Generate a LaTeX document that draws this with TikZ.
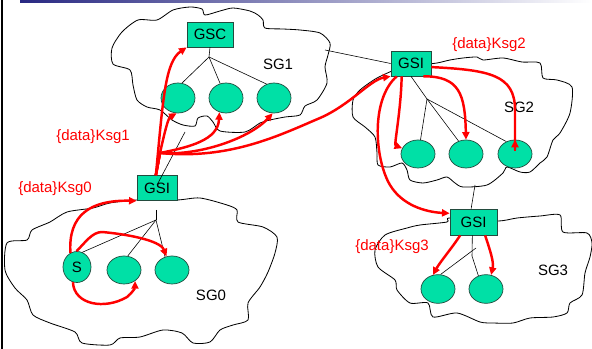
\documentclass[tikz,border=0pt]{standalone}
\usepackage{fontspec}
\setmainfont{Liberation Sans}
\usetikzlibrary{arrows.meta,shapes.geometric,calc}
\definecolor{nodefill}{RGB}{0,224,166}
\definecolor{nodeline}{RGB}{35,75,62}
\definecolor{barblue}{RGB}{40,40,130}

\begin{document}
\begin{tikzpicture}[x=0.03cm, y=-0.03cm,
  gbox/.style={draw=nodeline, fill=nodefill, line width=0.6pt, inner sep=0pt,
    minimum width=1.2cm, minimum height=0.75cm, font=\fontsize{12.8}{15}\selectfont},
  member/.style={ellipse, draw=nodeline, fill=nodefill, line width=0.6pt, inner sep=0pt,
    minimum width=1.02cm, minimum height=0.86cm, font=\fontsize{12.8}{15}\selectfont},
  wire/.style={black, line width=0.5pt},
  sgcloud/.style={black, line width=0.7pt},
  flow/.style={red, line width=2.1pt, -{Triangle[length=6.5pt,width=6pt]}},
  keytext/.style={red, font=\fontsize{12.8}{15}\selectfont},
  sgtext/.style={font=\fontsize{12.8}{15}\selectfont}]
  \useasboundingbox (0,0) rectangle (592,349);

  % Slide frame
  \shade[left color=barblue, right color=white] (20,0) rectangle (592,3);
  \fill[black] (1,0) rectangle (3,349);

  % Clouds
  \draw[sgcloud] plot[smooth cycle, tension=0.45] coordinates {
    (112,48) (122,32) (138,20) (157,20) (173,10) (190,7) (202,9) (205,15)
    (220,11) (233,8) (250,11) (258,15) (263,20) (265,28) (283,29) (300,30)
    (320,33) (330,43) (328,55) (325,67) (327,83) (317,100) (305,106)
    (300,115) (285,117) (270,120) (260,123) (245,132) (220,131) (213,122)
    (207,116) (198,118) (195,126) (183,125) (172,120) (160,110) (147,107)
    (137,100) (133,85) (130,70) (113,64)};
  \draw[sgcloud] plot[smooth cycle, tension=0.45] coordinates {
    (377,78) (360,90) (353,100) (353,117) (365,127) (375,137) (377,153)
    (378,165) (390,167) (402,163) (407,170) (410,180) (423,183) (437,180)
    (447,177) (455,183) (463,187) (487,185) (503,173) (507,167) (520,172)
    (530,172) (540,163) (547,157) (553,140) (560,133) (570,113) (572,87)
    (557,80) (543,78) (540,63) (522,62) (503,58) (483,60) (477,57) (463,58)
    (450,60) (437,63) (420,65) (400,68)};
  \draw[sgcloud] plot[smooth cycle, tension=0.45] coordinates {
    (137,200) (177,200) (200,198) (227,205) (237,210) (238,222) (263,227)
    (277,237) (275,253) (268,272) (260,287) (248,303) (248,320) (233,325)
    (220,330) (210,342) (193,343) (182,333) (163,330) (140,337) (120,338)
    (110,345) (82,343) (75,332) (50,323) (33,315) (27,300) (15,288) (5,270)
    (7,243) (27,240) (32,230) (50,222) (67,212) (93,208) (110,203)};
  \draw[sgcloud] plot[smooth cycle, tension=0.45] coordinates {
    (450,218) (497,221) (517,218) (540,216) (560,215) (563,232) (587,233)
    (592,243) (590,257) (585,273) (582,295) (570,303) (567,313) (553,317)
    (530,318) (513,323) (493,323) (480,322) (457,313) (433,317) (428,303)
    (410,303) (397,290) (395,280) (378,267) (375,250) (385,235) (407,228)
    (420,225) (447,222)};

  % Gateways
  \node[gbox, minimum width=1.38cm] (gsc) at (210,34.5) {GSC};
  \node[gbox] (gsi0) at (157,188) {GSI};
  \node[gbox] (gsi2) at (411,63.5) {GSI};
  \node[gbox, minimum width=1.41cm, minimum height=0.78cm] (gsi3) at (473.5,222) {GSI};

  % Members
  \node[member, minimum height=0.9cm] (e1a) at (178,98) {};
  \node[member, minimum height=0.9cm] (e1b) at (226,98) {};
  \node[member, minimum height=0.9cm] (e1c) at (274,98) {};
  \node[member, minimum height=0.84cm] (e2a) at (418,154) {};
  \node[member, minimum height=0.84cm] (e2b) at (466,154) {};
  \node[member, minimum height=0.84cm] (e2c) at (515,154) {};
  \node[member] (e3a) at (438,289) {};
  \node[member] (e3b) at (486,289) {};
  \node[member, minimum width=0.84cm, minimum height=0.93cm] (s) at (77,267) {S};
  \node[member, minimum height=0.84cm] (e0b) at (124,270) {};
  \node[member, minimum height=0.84cm] (e0c) at (172,270) {};

  % Group labels
  \node[sgtext] (sg1) at (278,64) {SG1};
  \node[sgtext] (sg2) at (519,107) {SG2};
  \node[sgtext] (sg0) at (211,295) {SG0};
  \node[sgtext] (sg3) at (553,270) {SG3};
  \node[keytext] (k1) at (93,137) {\{data\}Ksg1};
  \node[keytext] (k0) at (55,189) {\{data\}Ksg0};
  \node[keytext] (k2) at (489,45) {\{data\}Ksg2};
  \node[keytext] (k3) at (392,247) {\{data\}Ksg3};

  % Trees
  \coordinate (j1) at (209,57);
  \draw[wire] (gsc.south) -- (j1);
  \draw[wire] (j1) -- (e1a.75);
  \draw[wire] (j1) -- (e1b.112);
  \draw[wire] (j1) -- (e1c.118);
  \coordinate (j2) at (427,99);
  \draw[wire] (gsi2.south) -- (j2);
  \draw[wire] (j2) -- (e2a.80);
  \draw[wire] (j2) -- (e2b.120);
  \draw[wire] (j2) -- (e2c.125);
  \coordinate (j3) at (472,256);
  \coordinate (k3) at (476,248);
  \draw[wire] (gsi3.265) -- (j3) -- (e3b.120);
  \draw[wire] (k3) -- (e3a.80);
  \coordinate (t0) at (156,210);
  \coordinate (j0) at (156,220);
  \draw[wire] (t0) -- (j0);
  \draw[wire] (j0) -- (s.70);
  \draw[wire] (j0) -- (e0b.75);
  \draw[wire] (j0) -- (e0c.118);

  % Links between groups
  \coordinate (c1) at (325,50);
  \coordinate (c0) at (185,132);
  \coordinate (c2) at (475,185);
  \draw[wire] (c1) -- (gsi2.west);
  \draw[wire] ($(gsi0.center)+(0,-3)$) -- (c0);
  \draw[wire] (c2) -- (gsi3.100);

  % SG0 flows
  \draw[flow] (s.115) .. controls (68,215) and (90,200) .. (gsi0.south west);
  \draw[flow] (s.92) .. controls (85,243) and (92,232) .. (102,232)
    .. controls (125,234) and (160,240) .. (e0c.112);
  \draw[flow] (s.255) .. controls (74,305) and (105,310) .. (127,297)
    .. controls (132,293) and (135,288) .. (e0b.315);

  % SG1 flows
  \coordinate (fork) at (160,153);
  \draw[flow] (gsi0.95) .. controls (163,100) and (165,62) .. (gsc.south west);
  \draw[flow] (gsi0.95) -- (fork) .. controls (164,135) and (168,118) .. (e1a.265);
  \draw[flow] (gsi0.95) -- (fork) .. controls (190,147) and (218,140) .. (e1b.245);
  \draw[flow] (gsi0.95) -- (fork) .. controls (200,156) and (250,138) .. (e1c.265);
  \draw[flow] (gsi0.95) -- (fork) .. controls (230,160) and (280,135) .. (320,118)
    .. controls (350,105) and (370,80) .. (gsi2.south west);

  % SG2 flows
  \coordinate (e2end) at ($(e2c.center)+(0,-4)$);
  \draw[flow] (gsi2.234) .. controls (401,110) and (394,145) .. (e2a.160);
  \draw[flow] (gsi2.314) .. controls (460,76) and (465,95) .. (e2b.north);
  \draw[flow, -] (gsi2.350) .. controls (490,70) and (515,75) .. (515,110) -- (e2end);
  \draw[flow, shorten <=-1pt] (e2end) -- (e2c.north);
  \draw[flow] (gsi2.222) .. controls (370,100) and (375,160) .. (390,185)
    .. controls (402,205) and (425,212) .. (gsi3.160);

  % SG3 flows
  \draw[flow] (gsi3.225) .. controls (452,248) and (440,262) .. (e3a.110);
  \draw[flow] (gsi3.311) .. controls (490,250) and (494,262) .. (e3b.70);

\end{tikzpicture}
\end{document}
